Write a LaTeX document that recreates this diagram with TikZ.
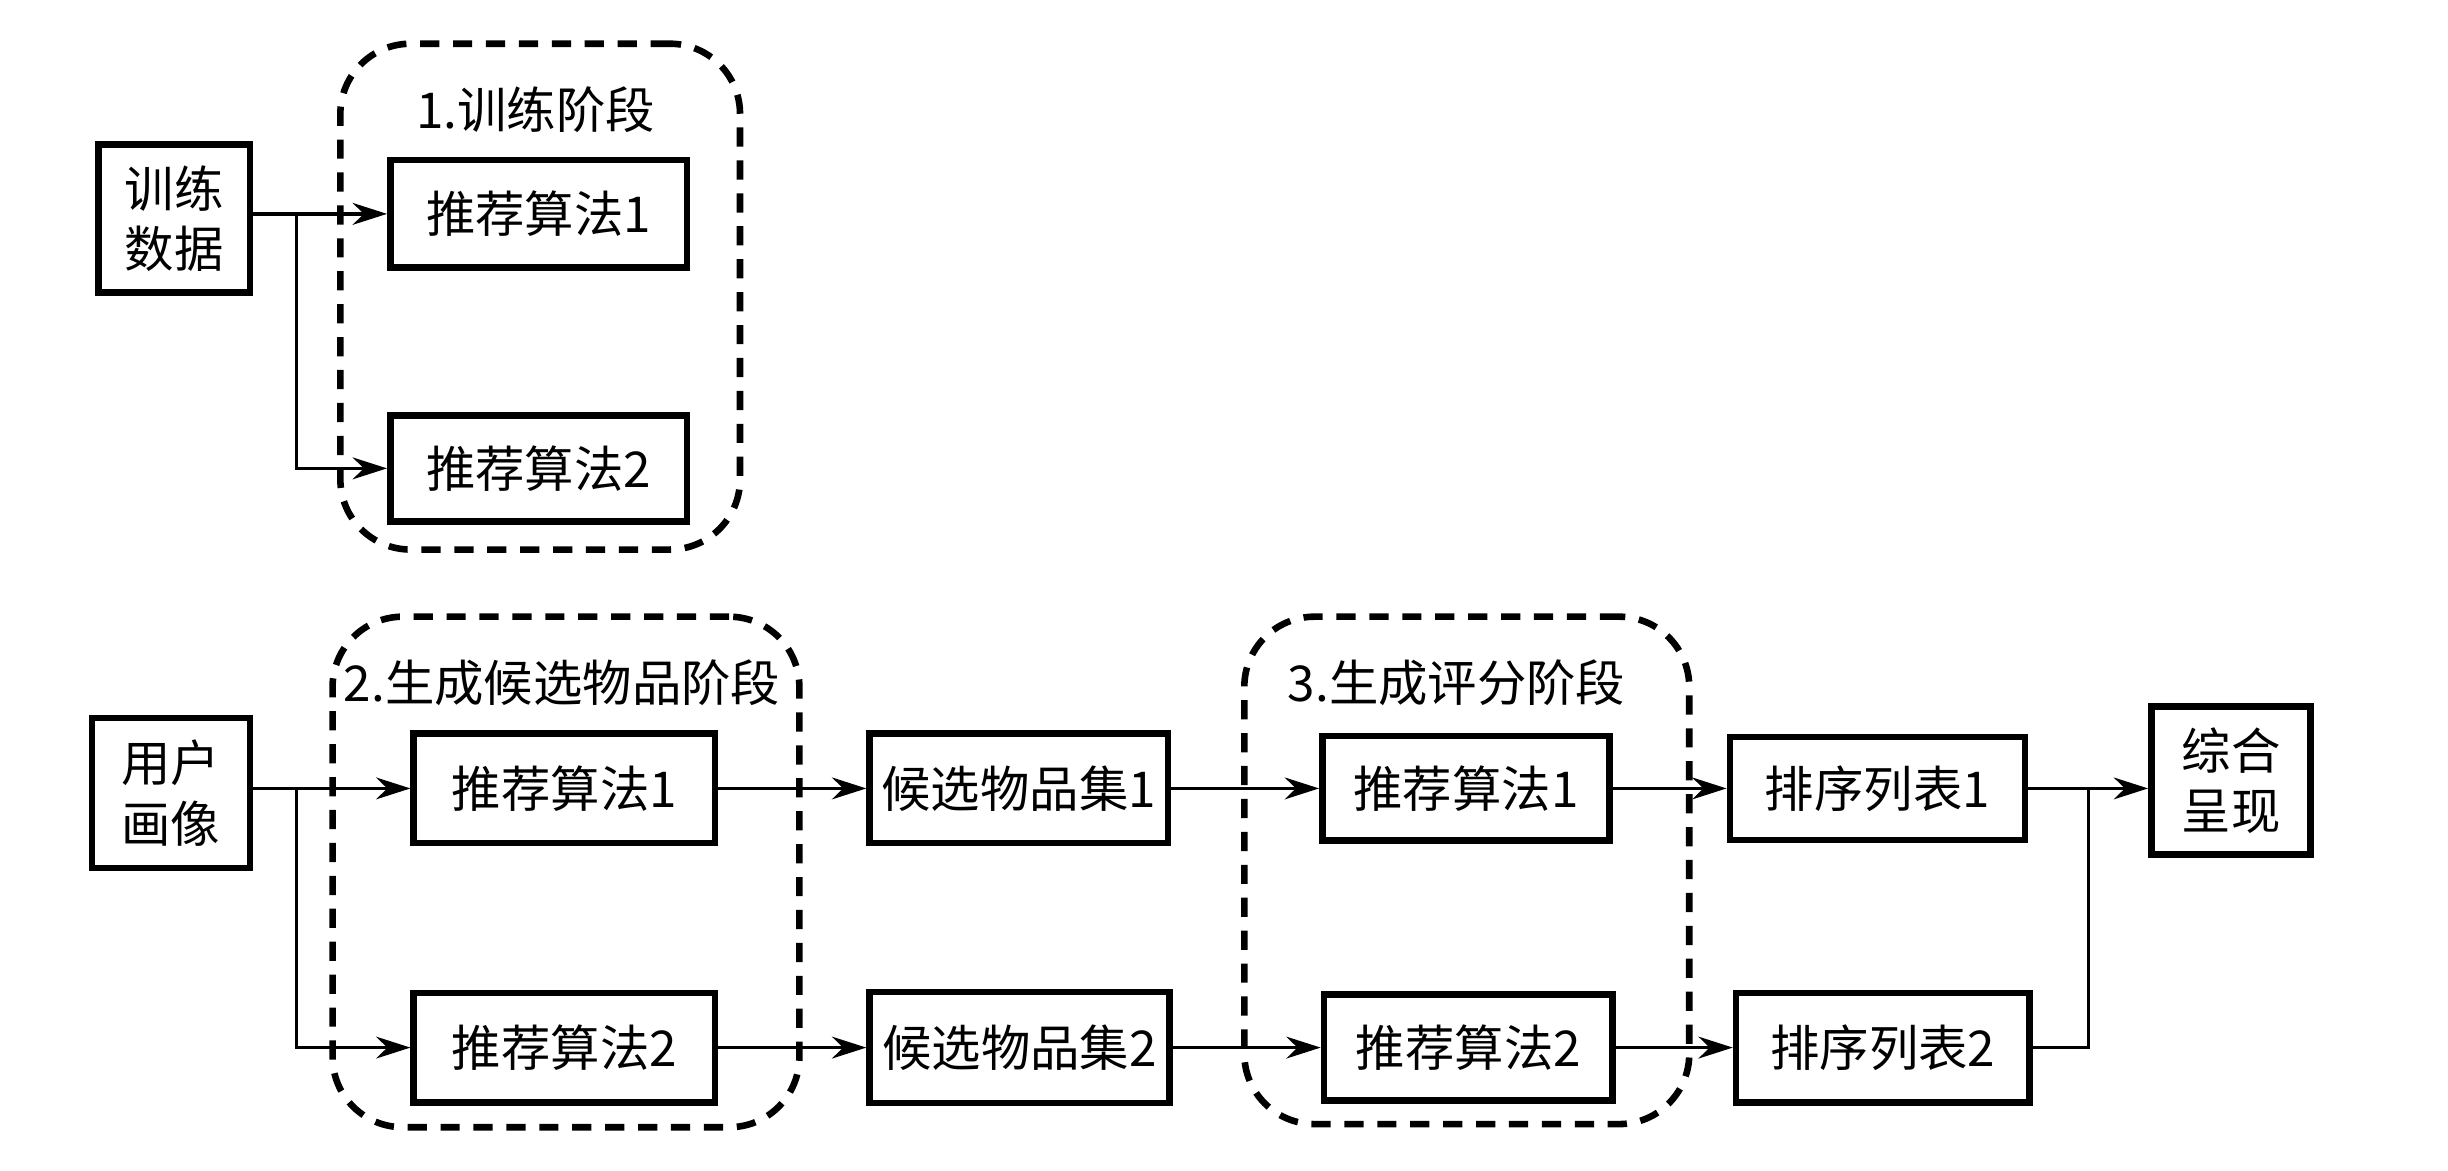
\documentclass[tikz,border=0pt]{standalone}
\usepackage{fontspec}
\setmainfont{Noto Sans CJK SC}
\usepackage{tikz}
\usetikzlibrary{calc,arrows.meta,positioning}

\begin{document}
\begin{tikzpicture}[scale=1.0,
  box/.style={draw, line width=1.2pt, align=center, inner sep=0pt,
    font=\fontsize{9}{11}\selectfont},
  stagebox/.style={draw, line width=1.2pt, dash pattern=on 3.5pt off 2.5pt,
    rounded corners=0.45cm, inner sep=0pt},
  stagelabel/.style={font=\fontsize{9}{11}\selectfont},
  arr/.style={line width=0.6pt, -{Stealth[length=2.2mm,width=1.4mm]}},
  plain/.style={line width=0.6pt}]
  \useasboundingbox (0,0) rectangle (15.68,7.5);

  % 1. Training stage
  \node[stagebox, minimum width=2.56cm, minimum height=3.24cm] (stageone) at (3.46, 5.6) {};
  \node[stagelabel] (stageonelabel) at (3.43, 6.8) {1.训练阶段};
  \node[box, minimum width=0.97cm, minimum height=0.95cm] (train) at (1.115, 6.10) {训练\\数据};
  \node[box, minimum width=1.9cm, minimum height=0.69cm] (trainA) at (3.45, 6.13) {推荐算法1};
  \node[box, minimum width=1.9cm, minimum height=0.68cm] (trainB) at (3.45, 4.50) {推荐算法2};

  \draw[arr] (train.east |- trainA.west) -- (trainA.west);
  \draw[arr] ($(train.east |- trainA.west)+(0.28,0)$) |- (trainB.west);

  % 2. Candidate generation stage
  \node[stagebox, minimum width=2.99cm, minimum height=3.27cm] (stagetwo) at (3.625, 1.915) {};
  \node[stagelabel] (stagetwolabel) at (3.60, 3.13) {2.生成候选物品阶段};
  \node[box, minimum width=1.01cm, minimum height=0.96cm] (user) at (1.095, 2.42) {用户\\画像};
  \node[box, minimum width=1.93cm, minimum height=0.70cm] (genA) at (3.615, 2.45) {推荐算法1};
  \node[box, minimum width=1.93cm, minimum height=0.70cm] (genB) at (3.615, 0.79) {推荐算法2};
  \node[box, minimum width=1.91cm, minimum height=0.70cm] (candA) at (6.525, 2.45) {候选物品集1};
  \node[box, minimum width=1.92cm, minimum height=0.71cm] (candB) at (6.53, 0.79) {候选物品集2};

  \draw[arr] (user.east |- genA.west) -- (genA.west);
  \draw[arr] ($(user.east |- genA.west)+(0.28,0)$) |- (genB.west);
  \draw[arr] (genA.east) -- (candA.west);
  \draw[arr] (genB.east) -- (candB.west);

  % 3. Scoring stage
  \node[stagebox, minimum width=2.85cm, minimum height=3.25cm] (stagethree) at (9.395, 1.925) {};
  \node[stagelabel] (stagethreelabel) at (9.33, 3.13) {3.生成评分阶段};
  \node[box, minimum width=1.84cm, minimum height=0.67cm] (scoreA) at (9.39, 2.45) {推荐算法1};
  \node[box, minimum width=1.85cm, minimum height=0.68cm] (scoreB) at (9.405, 0.79) {推荐算法2};
  \node[box, minimum width=1.89cm, minimum height=0.66cm] (rankA) at (12.025, 2.45) {排序列表1};
  \node[box, minimum width=1.88cm, minimum height=0.70cm] (rankB) at (12.06, 0.79) {排序列表2};
  \node[box, minimum width=1.02cm, minimum height=0.95cm] (show) at (14.29, 2.50) {综合\\呈现};

  \draw[arr] (candA.east) -- (scoreA.west);
  \draw[arr] (candB.east) -- (scoreB.west);
  \draw[arr] (scoreA.east) -- (rankA.west);
  \draw[arr] (scoreB.east) -- (rankB.west);

  % Merge into final presentation
  \coordinate (join) at ($(rankA.east)!0.5!(rankA.east -| show.west)$);
  \draw[arr] (rankA.east) -- (rankA.east -| show.west);
  \draw[plain] (rankB.east) -| (join);
\end{tikzpicture}
\end{document}
